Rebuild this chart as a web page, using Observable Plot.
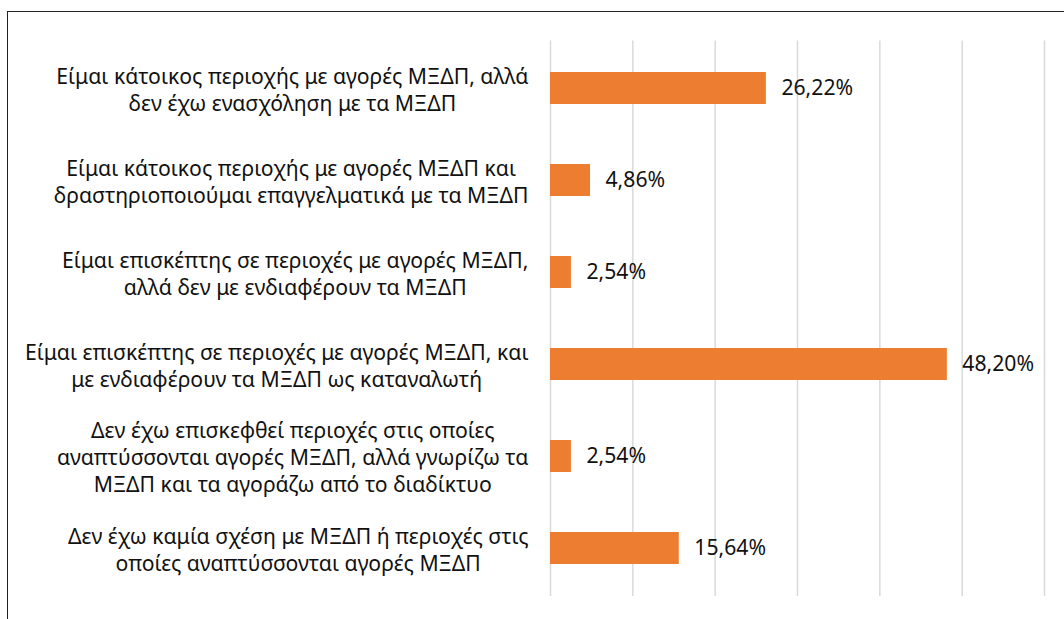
<!DOCTYPE html>
<html>
<head>
<meta charset="utf-8">
<script src="https://cdn.jsdelivr.net/npm/d3@7"></script>
<script src="https://cdn.jsdelivr.net/npm/@observablehq/plot@0.6"></script>
<style>
  html, body { margin: 0; padding: 0; background: #fff; }
  #wrap { position: relative; width: 1064px; height: 619px; overflow: hidden; }
  #border { position: absolute; left: 7px; top: 11px; width: 1100px; height: 700px; border-left: 1.3px solid #222; border-top: 1.3px solid #222; }
  #chart { position: absolute; left: 0; top: 0; }
</style>
</head>
<body>
<div id="wrap"><div id="border"></div><div id="chart"></div></div>
<script>
const categories = [
  "Είμαι κάτοικος περιοχής με αγορές ΜΞΔΠ, αλλά\nδεν έχω ενασχόληση με τα ΜΞΔΠ",
  "Είμαι κάτοικος περιοχής με αγορές ΜΞΔΠ και\nδραστηριοποιούμαι επαγγελματικά με τα ΜΞΔΠ",
  "Είμαι επισκέπτης σε περιοχές με αγορές ΜΞΔΠ,\nαλλά δεν με ενδιαφέρουν τα ΜΞΔΠ",
  "Είμαι επισκέπτης σε περιοχές με αγορές ΜΞΔΠ, και\nμε ενδιαφέρουν τα ΜΞΔΠ ως καταναλωτή",
  "Δεν έχω επισκεφθεί περιοχές στις οποίες\nαναπτύσσονται αγορές ΜΞΔΠ, αλλά γνωρίζω τα\nΜΞΔΠ και τα αγοράζω από το διαδίκτυο",
  "Δεν έχω καμία σχέση με ΜΞΔΠ ή περιοχές στις\nοποίες αναπτύσσονται αγορές ΜΞΔΠ"
];
const values = [26.22, 4.86, 2.54, 48.20, 2.54, 15.64];
const xTicks = [0, 10, 20, 30, 40, 50, 60];

const data = categories.map((c, i) => ({category: c, value: values[i]}));
const fmt = v => v.toFixed(2).replace(".", ",") + "%";

const FONT = "Noto Sans";
// fit font size so the widest label line matches the reference width
const ctx = document.createElement("canvas").getContext("2d");
ctx.font = `18px "${FONT}"`;
const refW = ctx.measureText("Είμαι επισκέπτης σε περιοχές με αγορές ΜΞΔΠ, και").width;
const fontSize = Math.max(14, Math.min(22, 18 * 504 / refW));
ctx.font = `${fontSize}px "${FONT}"`;
const lineH = 27 / fontSize;

const labelMarks = categories.map(c => {
  const w = d3.max(c.split("\n"), l => ctx.measureText(l).width);
  return Plot.text([c], {
    y: d => d,
    text: d => d,
    frameAnchor: "left",
    textAnchor: "middle",
    dx: -(22 + w / 2),
    lineHeight: lineH,
    fontSize: fontSize,
    fill: "#111"
  });
});

const chart = Plot.plot({
  width: 1064,
  height: 619,
  marginLeft: 550,
  marginRight: 20,
  marginTop: 40.5,
  marginBottom: 23,
  style: {fontFamily: `"${FONT}", sans-serif`, fontSize: `${fontSize}px`, background: "transparent", overflow: "visible"},
  x: {domain: [0, 60], axis: null},
  y: {domain: categories, axis: null, paddingInner: 0.654, paddingOuter: 0.327},
  marks: [
    Plot.ruleX(xTicks, {stroke: "#d9d9d9", strokeWidth: 1.5}),
    Plot.barX(data, {x: "value", y: "category", fill: "#ED7D31"}),
    Plot.text(data, {x: "value", y: "category", text: d => fmt(d.value), textAnchor: "start", dx: 15, fontSize: fontSize, fill: "#111"}),
    ...labelMarks
  ]
});
document.getElementById("chart").appendChild(chart);
</script>
</body>
</html>
